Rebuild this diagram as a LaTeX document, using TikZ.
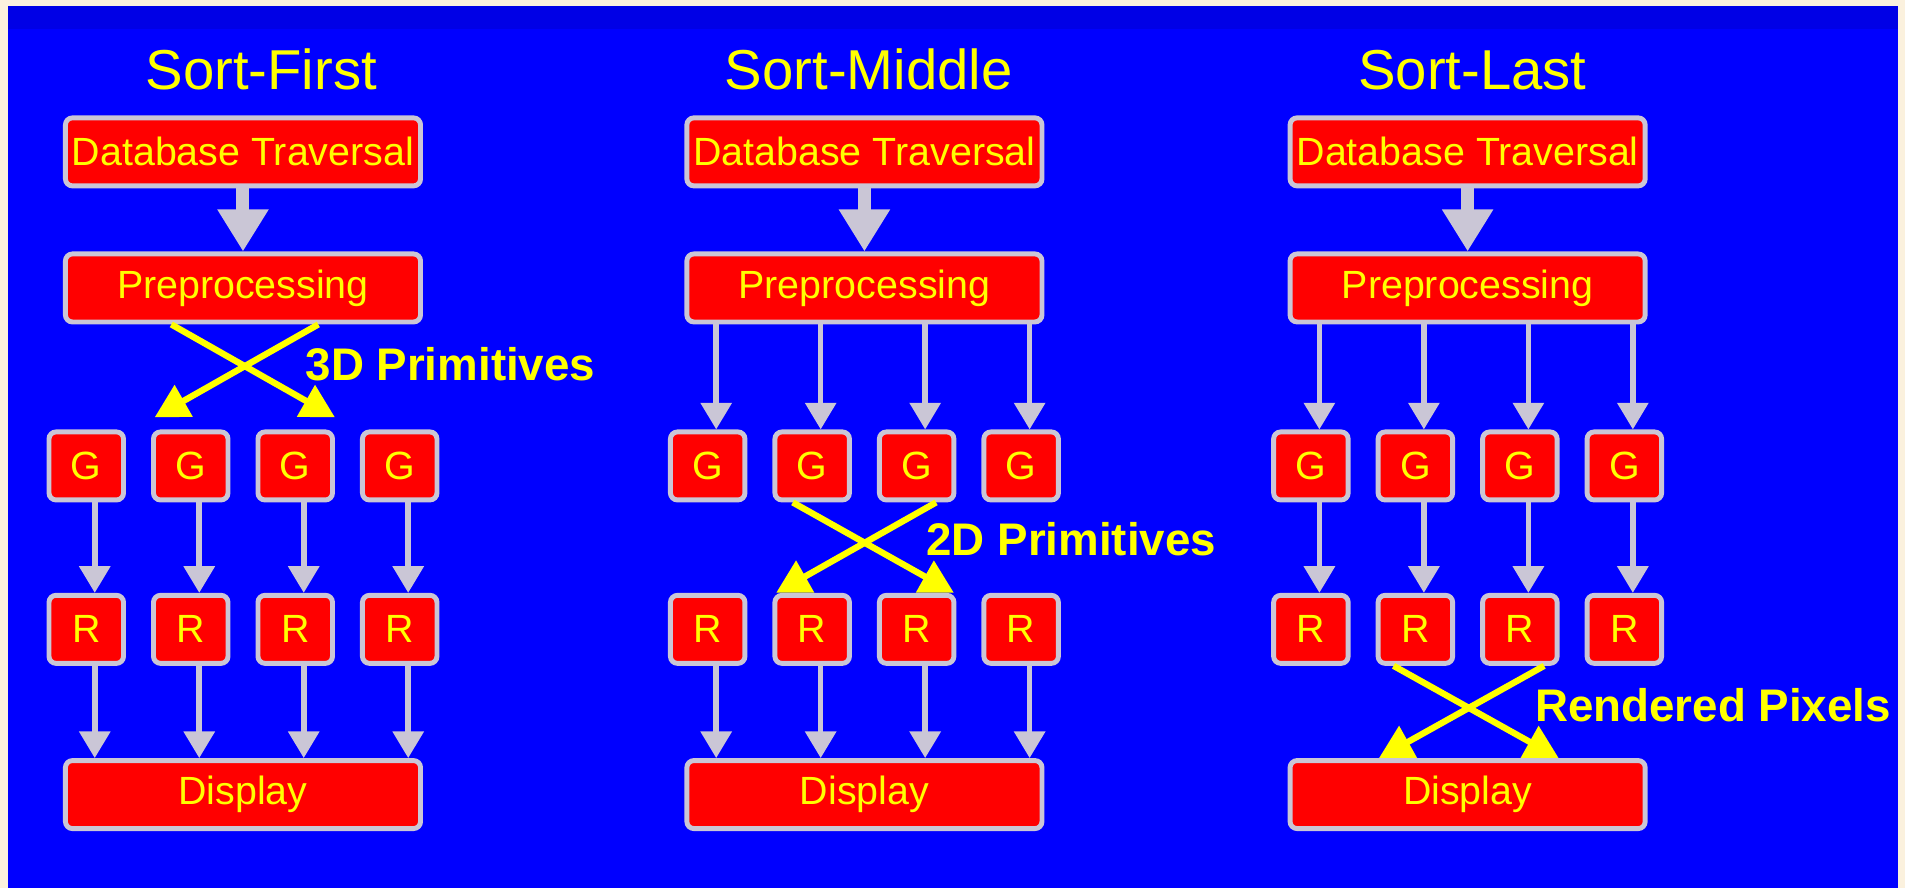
\documentclass[tikz,border=0pt]{standalone}
\usepackage{fontspec}
\setmainfont{Liberation Sans}
\usetikzlibrary{calc,arrows.meta}
\definecolor{paper}{RGB}{251,241,222}
\definecolor{slide}{RGB}{0,0,255}
\definecolor{band}{RGB}{0,0,230}
\definecolor{boxred}{RGB}{255,0,0}
\definecolor{rim}{RGB}{202,198,214}
\definecolor{lemon}{RGB}{255,255,0}
\tikzset{
  unit/.style={draw=rim,line width=1.4pt,fill=boxred,rounded corners=2pt,text=lemon,inner sep=0pt,font=\fontsize{11.2}{13}\selectfont},
  wide/.style={unit,minimum width=3.55cm,minimum height=0.68cm},
  cell/.style={unit,minimum width=0.745cm,minimum height=0.68cm},
  head/.style={text=lemon,font=\fontsize{16}{19}\selectfont,anchor=base},
  note/.style={text=lemon,font=\bfseries\fontsize{13}{15}\selectfont,anchor=base west,inner sep=0pt},
  feed/.style={draw=rim,line width=3.7pt,-{Triangle[width=13.8pt,length=12pt]}},
  pipe/.style={draw=rim,line width=1.6pt,-{Triangle[width=8.6pt,length=7.6pt]}},
  swap/.style={draw=lemon,line width=1.8pt,-{Triangle[width=10pt,length=9.5pt]}},
}

\begin{document}
\begin{tikzpicture}[x=0.01215cm,y=-0.01215cm]
  %%%%% BACKGROUND %%%%%
  \useasboundingbox (0,0) rectangle (1568,731);
  \fill[paper] (0,0) rectangle (1568,731);
  \fill[slide] (6.6,4.9) rectangle (1562,731);
  \fill[band] (6.6,4.9) rectangle (1562,24);

  %%%%% COLUMNS %%%%%
  \foreach \k/\c/\h/\t in {f/200/215/Sort-First, m/711.5/715/Sort-Middle, l/1208/1212/Sort-Last}{
    \node[head] (title\k) at (\h,74) {\t};
    \node[wide] (db\k) at (\c,125) {Database Traversal};
    \node[wide] (pre\k) at (\c,237) {Preprocessing};
    \node[wide] (disp\k) at (\c,654) {Display};
    \foreach \i/\d in {1/-129,2/-43,3/43,4/129}{
      \node[cell] (g\k\i) at ({\c+\d},383.5) {G};
      \node[cell] (r\k\i) at ({\c+\d},518) {R};
    }
    \draw[feed] (db\k) -- (pre\k);
  }

  %%%%% SORT-FIRST %%%%%
  \foreach \i in {1,...,4}{
    \draw[pipe] ($(gf\i.south)+(7,0)$) -- ($(rf\i.north)+(7,0)$);
    \draw[pipe] ($(rf\i.south)+(7,0)$) -- ($(rf\i.south |- dispf.north)+(7,0)$);
  }
  \draw[swap] ($(pref.south)+(-59,0)$) -- ($(gf3.north east)+(0,-10)$);
  \draw[swap] ($(pref.south)+(62,0)$) -- ($(gf2.north west)+(3,-10)$);
  \node[note] (primf) at (251,313) {3D Primitives};

  %%%%% SORT-MIDDLE %%%%%
  \foreach \i in {1,...,4}{
    \draw[pipe] ($(prem.south -| gm\i.north)+(7,0)$) -- ($(gm\i.north)+(7,0)$);
    \draw[pipe] ($(rm\i.south)+(7,0)$) -- ($(rm\i.south |- dispm.north)+(7,0)$);
  }
  \draw[swap] ($(gm2.south)+(-16,0)$) -- ($(rm3.north east)+(-2,0)$);
  \draw[swap] ($(gm3.south)+(16,0)$) -- ($(rm2.north west)+(3,0)$);
  \node[note] (primm) at (762,457) {2D Primitives};

  %%%%% SORT-LAST %%%%%
  \foreach \i in {1,...,4}{
    \draw[pipe] ($(prel.south -| gl\i.north)+(7,0)$) -- ($(gl\i.north)+(7,0)$);
    \draw[pipe] ($(gl\i.south)+(7,0)$) -- ($(rl\i.north)+(7,0)$);
  }
  \draw[swap] ($(rl2.south)+(-18,0)$) -- ($(displ.north)+(75,0)$);
  \draw[swap] ($(rl3.south)+(20,0)$) -- ($(displ.north)+(-73,0)$);
  \node[note] (pixl) at (1263,594) {Rendered Pixels};
\end{tikzpicture}
\end{document}
